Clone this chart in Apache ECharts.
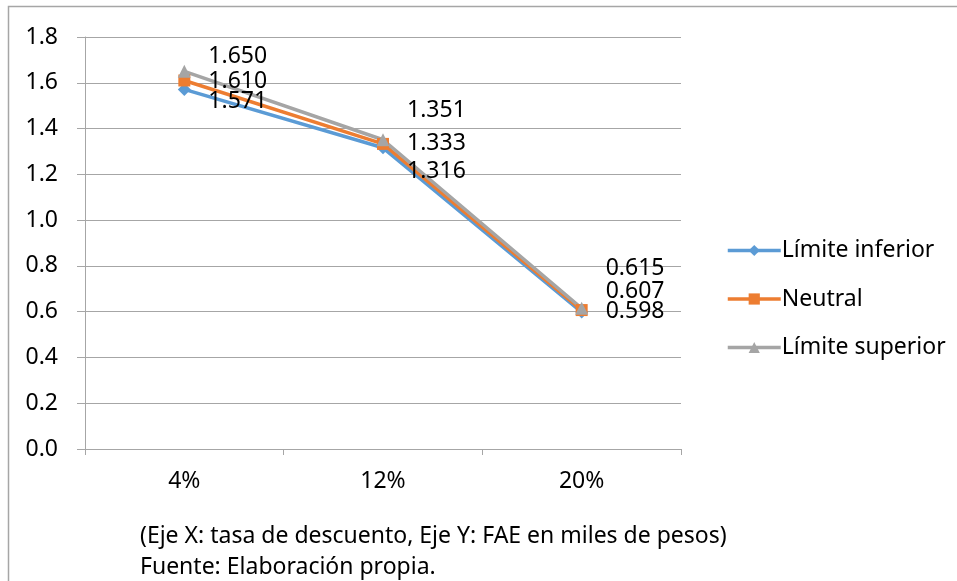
<!DOCTYPE html>
<html>
<head>
<meta charset="utf-8">
<script src="https://cdn.jsdelivr.net/npm/echarts@6/dist/echarts.min.js"></script>
<style>
html,body{margin:0;padding:0;background:#fff;}
#chart{width:957px;height:581px;}
</style>
</head>
<body>
<div id="chart"></div>
<script>
var categories = ['4%', '12%', '20%'];
var seriesNames = ['Límite inferior', 'Neutral', 'Límite superior'];
var limiteInferior = [1.571, 1.316, 0.598];
var neutral = [1.610, 1.333, 0.607];
var limiteSuperior = [1.650, 1.351, 0.615];
var yTicks = [0, 0.2, 0.4, 0.6, 0.8, 1.0, 1.2, 1.4, 1.6, 1.8];
var noteLine1 = '(Eje X: tasa de descuento, Eje Y: FAE en miles de pesos)';
var noteLine2 = 'Fuente: Elaboración propia.';

// label vertical offsets (style only)
var offInf = [12, 24, -1];
var offNeu = [1, 0, -19];
var offSup = [-15, -29, -40];

var FONT = 'Noto Sans';
var FS = 23;

function mkData(vals, offs) {
  return vals.map(function (v, i) {
    return { value: v, label: { offset: [0, offs[i]] } };
  });
}

function mkSeries(name, vals, offs, color, symbol, size) {
  return {
    name: name,
    type: 'line',
    data: mkData(vals, offs),
    symbol: symbol,
    symbolSize: size,
    lineStyle: { color: color, width: 3.5 },
    itemStyle: { color: color },
    label: {
      show: true,
      position: 'right',
      distance: 24 - size / 2,
      color: '#000',
      fontFamily: FONT,
      fontSize: FS,
      formatter: function (p) { return p.value.toFixed(3); }
    },
    z: 3
  };
}

var chart = echarts.init(document.getElementById('chart'), null, { renderer: 'canvas' });
chart.setOption({
  animation: false,
  backgroundColor: '#fff',
  grid: { left: 85, right: 276, top: 37, bottom: 132 },
  legend: {
    orient: 'vertical',
    left: 721,
    top: 234,
    itemWidth: 53,
    itemHeight: 14,
    itemGap: 25.5,
    lineStyle: { width: 3.5 },
    textStyle: { fontFamily: FONT, fontSize: FS, color: '#000', padding: [0, 0, 0, -4] },
    data: seriesNames
  },
  xAxis: {
    type: 'category',
    data: categories,
    boundaryGap: true,
    axisLine: { lineStyle: { color: '#a6a6a6', width: 1 } },
    axisTick: { show: true, length: 6, lineStyle: { color: '#a6a6a6' } },
    axisLabel: { fontFamily: FONT, fontSize: FS, color: '#000', margin: 21 },
    splitLine: { show: false }
  },
  yAxis: {
    type: 'value',
    min: 0,
    max: 1.8,
    interval: 0.2,
    axisLine: { show: true, lineStyle: { color: '#a6a6a6', width: 1 } },
    axisTick: { show: true, length: 8, lineStyle: { color: '#a6a6a6' } },
    axisLabel: {
      fontFamily: FONT, fontSize: FS, color: '#000', margin: 27,
      formatter: function (v) {
        var t = yTicks.filter(function (x) { return Math.abs(x - v) < 1e-9; });
        return (t.length ? t[0] : v).toFixed(1);
      }
    },
    splitLine: { show: true, lineStyle: { color: '#a6a6a6', width: 1 } }
  },
  series: [
    mkSeries(seriesNames[0], limiteInferior, offInf, '#5B9BD5', 'diamond', 13),
    mkSeries(seriesNames[1], neutral, offNeu, '#ED7D31', 'rect', 12),
    mkSeries(seriesNames[2], limiteSuperior, offSup, '#A5A5A5', 'triangle', 13)
  ],
  graphic: [
    {
      type: 'rect',
      shape: { x: 8.5, y: 6.5, width: 1000, height: 1000 },
      style: { fill: 'none', stroke: '#a6a6a6', lineWidth: 1.5 },
      silent: true
    },
    {
      type: 'text', left: 140, top: 525,
      style: { text: noteLine1, fontFamily: FONT, fontSize: FS, fill: '#000' }
    },
    {
      type: 'text', left: 140, top: 556,
      style: { text: noteLine2, fontFamily: FONT, fontSize: FS, fill: '#000' }
    }
  ]
});
</script>
</body>
</html>
